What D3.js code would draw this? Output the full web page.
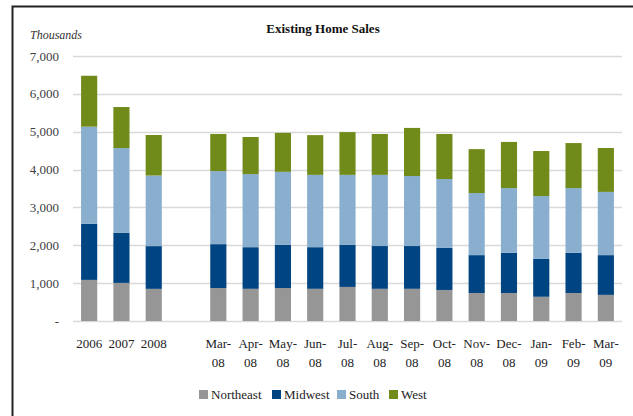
<!DOCTYPE html>
<html><head><meta charset="utf-8">
<script src="https://cdn.jsdelivr.net/npm/d3@7"></script>
<style>body{margin:0;background:#fff}svg{display:block}</style>
</head><body>
<svg id="c" width="633" height="416"></svg>
<script>
const categories = ["2006","2007","2008","","Mar-08","Apr-08","May-08","Jun-08","Jul-08","Aug-08","Sep-08","Oct-08","Nov-08","Dec-08","Jan-09","Feb-09","Mar-09"];
const northeast = [1086,1006,849,0,870,850,870,850,900,850,850,820,740,740,640,740,690];
const midwest   = [1484,1327,1129,0,1160,1100,1140,1100,1110,1130,1130,1110,1000,1060,1000,1060,1050];
const south     = [2563,2235,1865,0,1930,1930,1930,1910,1850,1880,1850,1820,1640,1710,1660,1710,1670];
const west      = [1345,1084,1070,0,980,980,1030,1050,1130,1080,1270,1190,1160,1220,1190,1190,1160];
const seriesNames = ["Northeast","Midwest","South","West"];
const colors = ["#969696","#004481","#89AECE","#708B1A"];
const yTicks = [0,1000,2000,3000,4000,5000,6000,7000];

const svg = d3.select("#c");
const font = "'Liberation Serif','DejaVu Serif',serif";

// frame
svg.append("rect").attr("x",12.5).attr("y",6.5).attr("width",640).attr("height",420)
  .attr("fill","none").attr("stroke","#222").attr("stroke-width",2);

const x = d3.scaleBand().domain(categories).range([73,622]).paddingInner(0.5).paddingOuter(0.25);
const y = d3.scaleLinear().domain([0,7000]).range([321,56]);

// grid
svg.append("g").selectAll("line").data(yTicks).join("line")
  .attr("x1",73).attr("x2",622).attr("y1",d=>Math.round(y(d))+0.5).attr("y2",d=>Math.round(y(d))+0.5)
  .attr("stroke","#d9d9d9").attr("stroke-width",1.5);

// y labels
svg.append("g").selectAll("text").data(yTicks).join("text")
  .attr("x",59).attr("y",d=>y(d)).attr("dy","0.35em").attr("text-anchor","end")
  .attr("font-family",font).attr("font-size",13).attr("fill","#404040")
  .text(d=>d===0?"-":d3.format(",")(d));

const data = categories.map((c,i)=>({cat:c,Northeast:northeast[i],Midwest:midwest[i],South:south[i],West:west[i]}));
const stack = d3.stack().keys(seriesNames)(data.filter(d=>d.cat!==""));

svg.append("g").selectAll("g").data(stack).join("g")
  .attr("fill",(d,i)=>colors[i])
  .selectAll("rect").data(d=>d).join("rect")
  .attr("x",d=>x(d.data.cat)).attr("width",x.bandwidth())
  .attr("y",d=>y(d[1])).attr("height",d=>y(d[0])-y(d[1]));

// x labels
const xl = svg.append("g").attr("font-family",font).attr("font-size",13).attr("fill","#222");
categories.forEach(c=>{
  if(!c) return;
  const cx = x(c)+x.bandwidth()/2;
  const parts = c.includes("-") ? [c.split("-")[0]+"-", c.split("-")[1]] : [c];
  parts.forEach((p,j)=>{
    xl.append("text").attr("x",cx).attr("y",348+j*19).attr("text-anchor","middle").text(p);
  });
});

// title
svg.append("text").attr("x",323).attr("y",33).attr("text-anchor","middle")
  .attr("font-family",font).attr("font-size",13).attr("font-weight","bold").attr("fill","#111")
  .text("Existing Home Sales");
svg.append("text").attr("x",30).attr("y",39)
  .attr("font-family",font).attr("font-size",12).attr("font-style","italic").attr("fill","#333")
  .text("Thousands");

// legend
const lg = svg.append("g").attr("font-family",font).attr("font-size",13).attr("fill","#222");
const lx = [199,272,337,389];
seriesNames.forEach((n,i)=>{
  lg.append("rect").attr("x",lx[i]).attr("y",390).attr("width",9).attr("height",9).attr("fill",colors[i]);
  lg.append("text").attr("x",lx[i]+12).attr("y",399).text(n);
});
</script>
</body></html>
